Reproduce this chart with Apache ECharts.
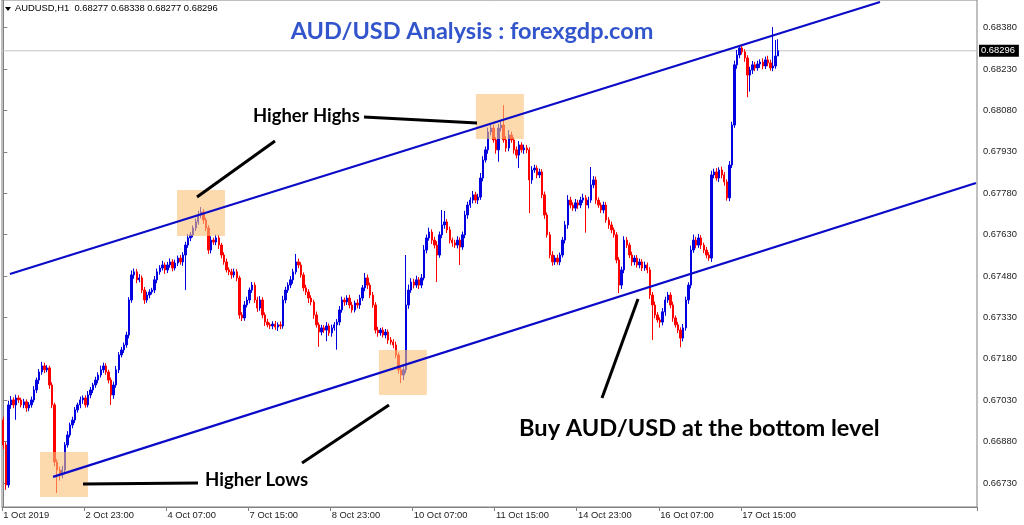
<!DOCTYPE html>
<html><head><meta charset="utf-8">
<script src="https://cdn.jsdelivr.net/npm/echarts@6/dist/echarts.min.js"></script>
<style>html,body{margin:0;padding:0;background:#fff}#c{width:1024px;height:525px}</style>
</head><body><div id="c"></div>
<script>
// Prices in points (price x 100000). H1 forex bars open at the previous bar's close.
const firstOpen = 66958;
const closePts = [
66868,66723,67013,67031,67013,67038,67031,67013,67024,67002,
67013,67031,67067,67103,67132,67154,67140,67147,67085,67013,
66806,66777,66759,66777,66868,66904,66940,66958,66995,67013,
67031,67038,67013,67049,67067,67085,67103,67121,67140,67154,
67132,67103,67049,67085,67140,67194,67212,67230,67266,67393,
67484,67495,67466,67473,67429,67393,67411,67422,67429,67466,
67495,67509,67520,67502,67520,67531,67509,67527,67545,67531,
67556,67592,67618,67629,67654,67676,67701,67712,67683,67654,
67574,67610,67603,67618,67592,67556,67531,67502,67495,67484,
67495,67473,67339,67328,67375,67393,67429,67447,67393,67364,
67393,67339,67313,67303,67299,67306,67295,67303,67299,67393,
67429,67447,67466,67495,67531,67520,67484,67437,67422,67400,
67386,67339,67303,67277,67292,67284,67299,67274,67292,67303,
67313,67357,67393,67386,67400,67375,67357,67382,67375,67400,
67437,67473,67447,67411,67375,67284,67274,67284,67266,67277,
67248,67241,67230,67194,67140,67121,67140,67375,67429,67458,
67447,67466,67447,67473,67574,67618,67639,67610,67592,67556,
67629,67665,67676,67647,67610,67600,67592,67610,67585,67629,
67701,67737,67755,67774,67755,67766,67835,67900,67937,68002,
68016,67973,67937,68016,68027,67973,67944,67991,67973,67937,
67918,67955,67937,67944,67937,67828,67864,67871,67846,67857,
67774,67701,67629,67556,67531,67545,67531,67556,67610,67665,
67755,67737,67726,67745,67737,67755,67763,67737,67755,67810,
67828,67755,67737,67719,67737,67683,67665,67647,67629,67538,
67447,67502,67610,67592,67556,67531,67545,67520,67531,67509,
67520,67502,67411,67375,67339,67321,67313,67350,67393,67411,
67375,67328,67303,67284,67255,67292,67393,67447,67574,67610,
67592,67618,67592,67574,67556,67545,67846,67857,67835,67864,
67846,67821,67763,67882,68027,68245,68281,68306,68292,68270,
68208,68226,68245,68234,68248,68255,68241,68263,68252,68234,
68241,68277,68296
];
const upperWickPts = [
12,10,15,14,9,12,10,8,11,9,
10,12,14,9,11,15,12,10,8,10,
8,10,12,15,10,14,9,12,10,8,
12,9,10,14,11,8,12,10,15,12,
10,8,9,12,14,10,11,9,12,10,
16,12,10,14,9,11,12,10,8,14,
12,10,15,9,11,13,10,12,9,11,
10,12,14,11,9,12,15,18,10,8,
10,14,9,12,11,8,10,12,9,11,
12,10,8,10,14,12,9,11,10,12,
14,10,9,12,8,10,11,9,12,15,
12,10,14,11,29,12,10,9,11,10,
10,8,12,9,11,10,14,9,12,10,
11,14,12,9,10,12,11,9,14,12,
10,18,12,9,11,10,12,8,10,11,
9,11,10,12,9,10,12,181,20,14,
12,15,10,14,18,12,16,10,12,14,
12,54,40,10,12,9,11,14,10,12,
15,12,10,14,11,12,18,14,12,16,
14,12,10,15,12,72,14,18,12,10,
12,14,10,12,11,9,14,12,10,12,
10,12,9,11,14,10,12,9,11,14,
18,12,10,14,11,12,15,10,12,65,
14,12,10,9,12,11,10,12,9,10,
10,12,14,11,9,12,10,11,12,10,
12,9,10,11,12,10,9,14,12,11,
10,12,9,11,10,14,12,10,16,20,
12,14,10,9,11,10,15,12,14,10,
12,10,9,14,12,15,18,11,14,10,
10,12,14,11,12,10,14,12,15,12,
141,58,42
];
const lowerWickPts = [
15,18,10,14,12,54,11,9,12,14,
12,10,9,11,14,10,12,9,14,12,
15,83,20,12,14,10,9,12,11,10,
12,14,10,9,12,11,10,12,9,11,
10,12,36,14,10,12,9,11,10,12,
10,14,12,9,11,14,10,12,9,11,
12,10,9,14,11,10,12,9,11,10,
14,127,10,12,9,11,10,12,14,11,
14,12,10,11,14,12,10,9,12,14,
10,12,14,11,10,9,12,10,11,14,
10,12,14,9,11,12,10,14,12,10,
12,10,11,14,9,12,10,12,11,18,
12,14,10,54,12,10,40,11,14,10,
90,12,10,14,11,12,10,9,12,14,
10,12,14,11,10,12,14,10,9,12,
14,10,12,11,14,29,18,12,14,10,
12,10,14,11,9,12,10,14,12,98,
10,12,14,11,12,14,10,12,65,10,
12,14,10,12,11,14,10,12,9,14,
12,10,14,43,12,10,14,12,10,14,
12,47,10,14,12,120,14,10,12,11,
12,14,10,12,14,11,10,12,9,12,
14,12,10,12,14,11,10,100,12,10,
12,14,10,11,12,10,14,12,10,12,
29,14,12,10,11,14,12,10,12,11,
10,12,14,127,12,10,20,12,14,10,
12,14,10,11,33,12,10,14,12,10,
12,10,14,11,12,10,14,12,10,14,
12,14,10,12,11,10,14,12,10,14,
80,60,14,12,10,14,12,11,12,10,
12,10,0
];
const xTickLabels = ['1 Oct 2019','2 Oct 23:00','4 Oct 07:00','7 Oct 15:00','8 Oct 23:00',
  '10 Oct 07:00','11 Oct 15:00','14 Oct 23:00','16 Oct 07:00','17 Oct 15:00'];
const xTickEvery = 32;
const yTickValues = [0.66730,0.66880,0.67030,0.67180,0.67330,0.67480,0.67630,0.67780,0.67930,0.68080,0.68230,0.68380];
const lastPrice = 0.68296;
const headerText = 'AUDUSD,H1  0.68277 0.68338 0.68277 0.68296';
const slotCount = 380;
// channel lines: [bar position, price]
const upperChannel = [[2.6, 0.67487], [341.7, 0.68473]];
const lowerChannel = [[19.4, 0.66752], [379.1, 0.67817]];
// highlighted zones: [barFrom, barTo, priceLow, priceHigh]
const zones = [[67.7, 86.4, 0.67625, 0.67792], [184.2, 202.9, 0.67976, 0.68139],
               [146.4, 165.1, 0.67049, 0.67212], [14.3, 33.0, 0.66679, 0.66842]];

const candles = closePts.map((c, i) => {
  const o = i ? closePts[i - 1] : firstOpen;
  const hi = Math.max(o, c) + upperWickPts[i];
  const lo = Math.min(o, c) - lowerWickPts[i];
  return [o / 1e5, c / 1e5, lo / 1e5, hi / 1e5];
});
const categories = Array.from({length: slotCount}, (_, i) => String(i));
const showIdx = (i) => i % xTickEvery === 0 && (i / xTickEvery) < xTickLabels.length;

const chart = echarts.init(document.getElementById('c'), null, {renderer: 'canvas'});
const AX = '#808080';
const F = 'Liberation Sans';
chart.setOption({
  animation: false,
  backgroundColor: '#ffffff',
  grid: {left: 2, right: 47, top: 0, bottom: 18, show: true, borderColor: AX, borderWidth: 1, backgroundColor: 'transparent'},
  xAxis: [{
    type: 'category', data: categories, boundaryGap: true,
    axisLine: {show: true, lineStyle: {color: AX}},
    axisTick: {show: true, length: 4, interval: (i) => showIdx(i), lineStyle: {color: AX}},
    axisLabel: {interval: (i) => showIdx(i), formatter: (v, i) => xTickLabels[i / xTickEvery] || '',
      align: 'left', margin: 4, color: '#222', fontFamily: F, fontSize: 9.4},
    splitLine: {show: false}
  }, {
    type: 'value', min: -0.5, max: slotCount - 0.5, show: false
  }],
  yAxis: {
    type: 'value', position: 'right', min: 0.66643, max: 0.68480, scale: true,
    splitLine: {show: false},
    axisLine: {show: true, lineStyle: {color: AX}},
    axisTick: {show: true, length: 4, customValues: yTickValues, lineStyle: {color: AX}},
    axisLabel: {customValues: yTickValues, formatter: (v) => v.toFixed(5), margin: 6,
      color: '#222', fontFamily: F, fontSize: 9.4}
  },
  series: [{
    type: 'line', xAxisIndex: 1, z: 1, symbol: 'none', silent: true,
    data: [[-0.5, lastPrice], [slotCount - 0.5, lastPrice]],
    lineStyle: {color: '#c4c4c4', width: 1},
    endLabel: {show: true, formatter: () => lastPrice.toFixed(5), backgroundColor: '#000', color: '#fff',
      fontFamily: F, fontSize: 9.4, padding: [2, 4, 1, 2], distance: 2}
  }, {
    type: 'candlestick', data: candles, xAxisIndex: 0, barWidth: 1.9, z: 2,
    itemStyle: {color: '#0000e0', color0: '#ff0000', borderColor: '#0000e0', borderColor0: '#ff0000', borderWidth: 1}
  }, {
    type: 'custom', xAxisIndex: 1, z: 3, data: zones, encode: {x: [0, 1], y: [2, 3]},
    renderItem: (params, api) => {
      const p0 = api.coord([api.value(0), api.value(3)]);
      const p1 = api.coord([api.value(1), api.value(2)]);
      return {type: 'rect', shape: {x: p0[0], y: p0[1], width: p1[0] - p0[0], height: p1[1] - p0[1]},
        style: {fill: 'rgba(251,192,120,0.6)'}};
    }
  }, {
    type: 'line', xAxisIndex: 1, data: upperChannel, symbol: 'none', z: 4,
    lineStyle: {color: '#0a0ac8', width: 2.2}
  }, {
    type: 'line', xAxisIndex: 1, data: lowerChannel, symbol: 'none', z: 4,
    lineStyle: {color: '#0a0ac8', width: 2.2}
  }],
  graphic: [
    {type: 'polygon', shape: {points: [[5, 7], [11, 7], [8, 11]]}, style: {fill: '#000'}, z: 10},
    {type: 'text', left: 15, top: 4, style: {text: headerText, fill: '#000', font: '9.4px "Liberation Sans"'}, z: 10},
    {type: 'text', x: 472, y: 31, style: {text: 'AUD/USD Analysis : forexgdp.com', fill: '#3355cc',
      font: 'bold 23.5px Lato', textAlign: 'center', textVerticalAlign: 'middle'}, z: 10},
    {type: 'text', x: 253, y: 116, style: {text: 'Higher Highs', fill: '#000', font: 'bold 18.4px Lato', textVerticalAlign: 'middle'}, z: 10},
    {type: 'text', x: 205, y: 480, style: {text: 'Higher Lows', fill: '#000', font: 'bold 18.6px Lato', textVerticalAlign: 'middle'}, z: 10},
    {type: 'text', x: 519, y: 428, style: {text: 'Buy AUD/USD at the bottom level', fill: '#000', font: 'bold 23.6px Lato', textVerticalAlign: 'middle'}, z: 10},
    {type: 'line', shape: {x1: 364, y1: 117, x2: 477, y2: 123}, style: {stroke: '#000', lineWidth: 3}, z: 10},
    {type: 'line', shape: {x1: 197, y1: 197, x2: 275, y2: 141}, style: {stroke: '#000', lineWidth: 3}, z: 10},
    {type: 'line', shape: {x1: 83, y1: 484, x2: 198, y2: 483}, style: {stroke: '#000', lineWidth: 3}, z: 10},
    {type: 'line', shape: {x1: 302, y1: 463, x2: 389, y2: 405}, style: {stroke: '#000', lineWidth: 3}, z: 10},
    {type: 'line', shape: {x1: 602, y1: 398, x2: 638, y2: 299}, style: {stroke: '#000', lineWidth: 3}, z: 10}
  ]
});
</script></body></html>
